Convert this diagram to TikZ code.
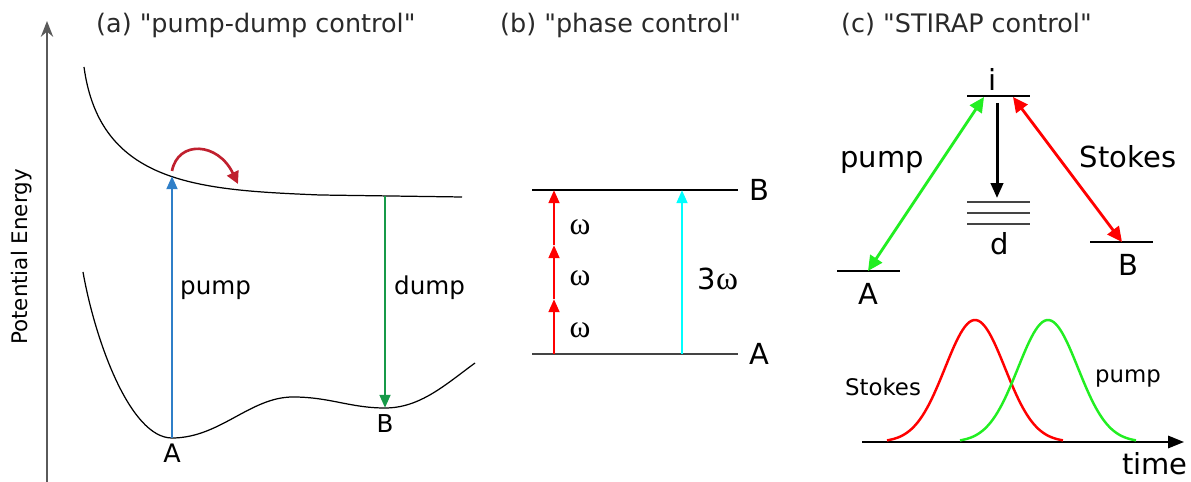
\documentclass[tikz,border=0pt]{standalone}
\usepackage{fontspec}
\setmainfont{DejaVu Sans}[Ligatures=TeXOff]
\newfontfamily\greekfont{Liberation Serif}
\usetikzlibrary{arrows.meta,positioning}
\definecolor{axisgray}{HTML}{5A5A5A}
\definecolor{pumpblue}{HTML}{2F7FC8}
\definecolor{dumpgreen}{HTML}{169A48}
\definecolor{hopred}{HTML}{C0202E}
\definecolor{laserred}{HTML}{FF0000}
\definecolor{lasercyan}{HTML}{00FFFF}
\definecolor{lasergreen}{HTML}{22EE22}
\definecolor{levelgray}{HTML}{444444}
\definecolor{titlegray}{HTML}{2A2A2A}

\begin{document}
\begin{tikzpicture}[
  x=0.02cm, y=-0.02cm,
  curve/.style={draw=black, line width=0.7pt},
  level/.style={draw=black, line width=1.1pt},
  sublevel/.style={draw=levelgray, line width=1.5pt},
  arrow/.style={-{Triangle[length=7.5pt,width=6pt]}, line width=1.7pt},
  both/.style={{Triangle[length=8.5pt,width=8pt]}-{Triangle[length=8.5pt,width=8pt]}, line width=1.6pt},
  titletxt/.style={font=\fontsize{14.5}{17}\selectfont, anchor=west, text=titlegray},
  txt/.style={font=\fontsize{14}{17}\selectfont},
  txtbig/.style={font=\fontsize{16.5}{19}\selectfont},
  txtsmall/.style={font=\fontsize{13}{16}\selectfont},
  omegatxt/.style={font=\fontsize{18}{20}\selectfont\greekfont}
]
  \useasboundingbox (0,0) rectangle (1191,482);

  % (a) pump-dump control
  \coordinate (axbot) at (47,482);
  \coordinate (axtop) at (47,21);
  \draw[axisgray, line width=1.1pt, -{Stealth[length=9pt,width=7pt]}] (axbot) -- (axtop);
  \node[txt, font=\fontsize{12.2}{14}\selectfont, rotate=90] (energy) at (22,257) {Potential Energy};
  \node[titletxt] (titlea) at (90,25) {(a) "pump-dump control"};

  \draw[curve] (84,67) .. controls (100,185) and (200,190) .. (320,195) -- (462,197);
  \draw[curve] (83,272) .. controls (95,340) and (130,438) .. (172,438)
    .. controls (220,438) and (250,397) .. (293,397)
    .. controls (330,397) and (350,408) .. (385,408)
    .. controls (420,408) and (445,385) .. (475,363);

  \coordinate (excA) at (172,176);
  \coordinate (gsA) at (172,438);
  \coordinate (excB) at (385,196);
  \coordinate (gsB) at (385,408);
  \coordinate (hopstart) at (172,171);
  \coordinate (hopend) at (238,184);

  \draw[arrow, pumpblue] (gsA) -- (excA);
  \draw[arrow, dumpgreen] (excB) -- (gsB);
  \draw[hopred, line width=1.5pt, -{Triangle[length=7pt,width=7pt]}]
    (hopstart) .. controls (178,140) and (218,142) .. (hopend);
  \node[txt, anchor=west] (pumpa) at (174,290) {pump};
  \node[txt, anchor=west] (dumpa) at (388,288) {dump};
  \node[txt, font=\fontsize{14.5}{17}\selectfont, below=0pt of gsA] (labA) {A};
  \node[txt, below=0pt of gsB] (labB) {B};

  % (b) phase control
  \node[titletxt] (titleb) at (494,25) {(b) "phase control"};
  \coordinate (BL) at (532,190);
  \coordinate (BR) at (738,190);
  \coordinate (AL) at (532,354);
  \coordinate (AR) at (738,354);
  \draw[level] (BL) -- (BR);
  \draw[level, draw=levelgray, line width=1.4pt] (AL) -- (AR);
  \node[txtbig, right=3pt of BR] (levB) {B};
  \node[txtbig, right=3pt of AR] (levA) {A};

  \coordinate (w0) at (554,354);
  \coordinate (w1) at (554,299);
  \coordinate (w2) at (554,245);
  \coordinate (w3) at (554,190);
  \draw[arrow, laserred] (w0) -- (w1);
  \draw[arrow, laserred] (w1) -- (w2);
  \draw[arrow, laserred] (w2) -- (w3);
  \node[omegatxt] (om1) at (580,227) {ω};
  \node[omegatxt] (om2) at (580,278) {ω};
  \node[omegatxt] (om3) at (580,330) {ω};

  \coordinate (c0) at (682,354);
  \coordinate (c3) at (682,190);
  \draw[arrow, lasercyan] (c0) -- (c3);
  \node[txtbig] (om3w) at (718,279) {3{\fontsize{19}{20}\selectfont\greekfont ω}};

  % (c) STIRAP control
  \node[titletxt] (titlec) at (835,25) {(c) "STIRAP control"};
  \coordinate (iL) at (967,96);
  \coordinate (iR) at (1030,96);
  \coordinate (AcL) at (837,271);
  \coordinate (AcR) at (900,271);
  \coordinate (BcL) at (1090,242);
  \coordinate (BcR) at (1153,242);
  \draw[level] (iL) -- (iR);
  \draw[level] (AcL) -- (AcR);
  \draw[level] (BcL) -- (BcR);
  \draw[sublevel] (967,202) -- (1030,202);
  \draw[sublevel] (967,213) -- (1030,213);
  \draw[sublevel] (967,224) -- (1030,224);
  \node[txtbig] (labi) at (993,79) {i};
  \node[txtbig] (labd) at (1000,244) {d};
  \node[txtbig] (labAc) at (868,294) {A};
  \node[txtbig] (labBc) at (1128,265) {B};

  \coordinate (idown) at (997,103);
  \coordinate (dtop) at (997,198);
  \coordinate (ipump) at (984,97);
  \coordinate (Apump) at (868,271);
  \coordinate (istokes) at (1013,97);
  \coordinate (Bstokes) at (1122,242);
  \draw[arrow, black, -{Triangle[length=8.5pt,width=7pt]}] (idown) -- (dtop);
  \draw[both, lasergreen] (ipump) -- (Apump);
  \draw[both, laserred] (istokes) -- (Bstokes);
  \node[txtbig] (pumpc) at (882,162) {pump};
  \node[txtbig] (stokesc) at (1128,157) {Stokes};

  \coordinate (t0) at (862,442);
  \coordinate (t1) at (1184,442);
  \draw[black, line width=1.1pt, -{Triangle[length=9pt,width=7pt]}] (t0) -- (t1);
  \draw[laserred, line width=1.4pt] plot[domain=-88:88, samples=80]
    ({975+\x},{442-122*exp(-(\x*\x)/1800)});
  \draw[lasergreen, line width=1.4pt] plot[domain=-88:88, samples=80]
    ({1048+\x},{442-122*exp(-(\x*\x)/1800)});
  \node[txtsmall] (stokesp) at (883,387) {Stokes};
  \node[txtsmall] (pumpp) at (1128,378) {pump};
  \node[txtbig] (time) at (1155,464) {time};
\end{tikzpicture}
\end{document}
